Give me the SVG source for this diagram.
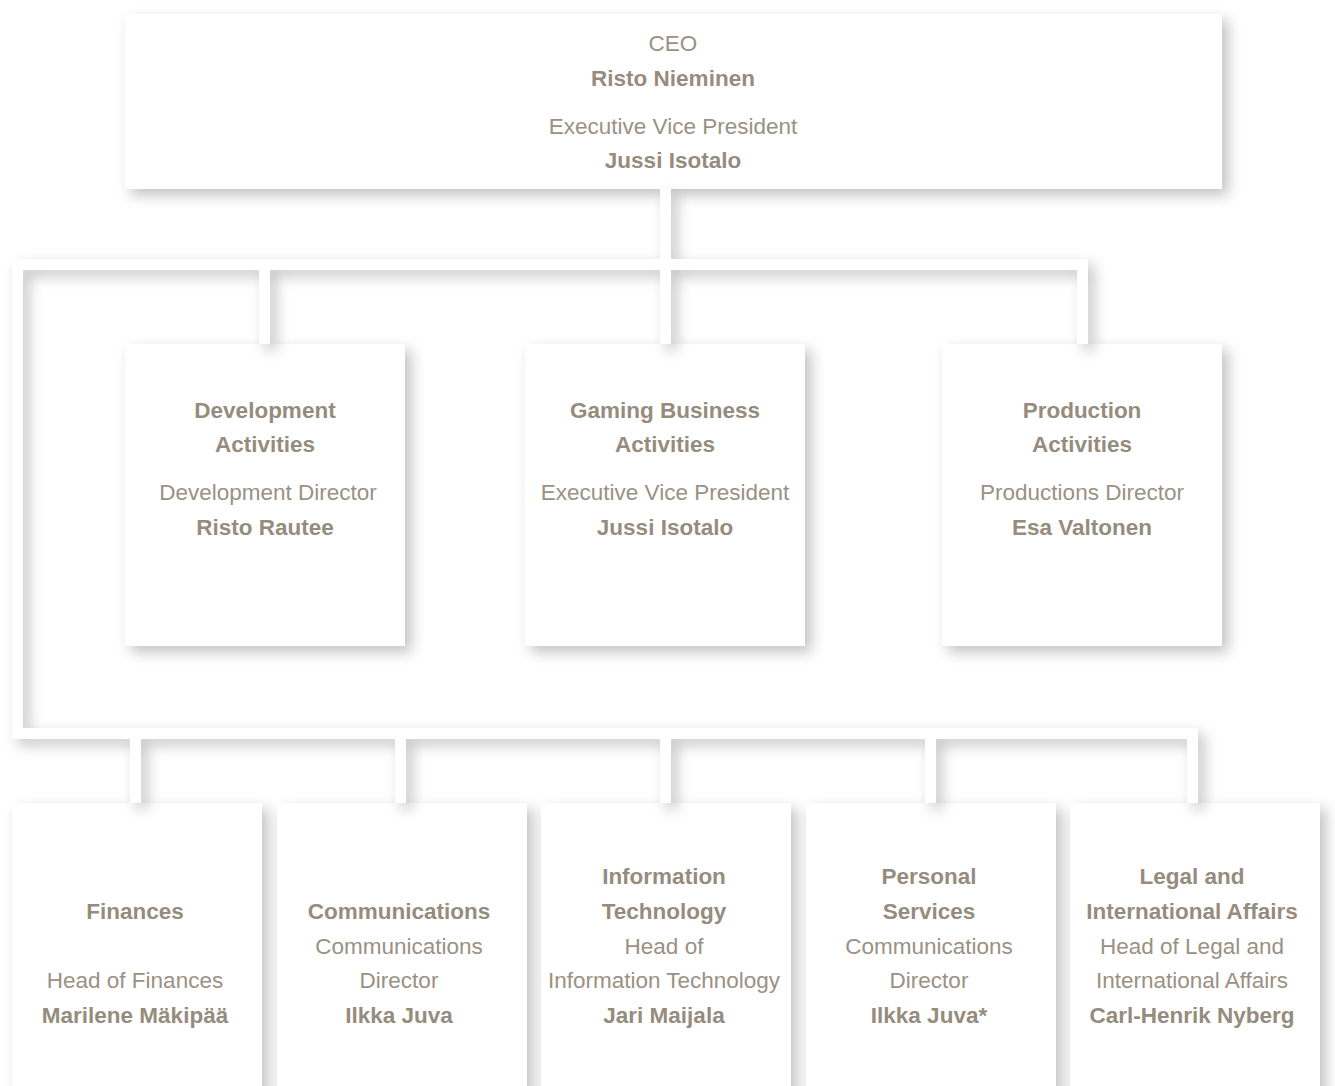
<svg xmlns="http://www.w3.org/2000/svg" width="1335" height="1086" viewBox="0 0 1335 1086">
<defs>
<filter id="sh" x="-15%" y="-15%" width="140%" height="150%">
<feDropShadow dx="6" dy="6" stdDeviation="7" flood-color="#000" flood-opacity="0.24"/>
</filter>
<style>
.box{fill:#fff;filter:url(#sh)}
.bar{fill:#fff}
text{font-family:"Liberation Sans",Arial,Helvetica,sans-serif;font-size:22.5px;fill:#9a9184;text-anchor:middle}
.b{font-weight:bold;fill:#958c7e}
</style>
</defs>
<rect width="1335" height="1086" fill="#fff"/>

<g id="ceo">
<rect class="box" x="125" y="14" width="1097" height="175"/>
<text x="673" y="51">CEO</text>
<text class="b" x="673" y="86">Risto Nieminen</text>
<text x="673" y="134">Executive Vice President</text>
<text class="b" x="673" y="168">Jussi Isotalo</text>
</g>

<g id="development">
<rect class="box" x="125" y="344" width="280" height="302"/>
<text class="b" x="265" y="418">Development</text>
<text class="b" x="265" y="452">Activities</text>
<text x="268" y="500">Development Director</text>
<text class="b" x="265" y="535">Risto Rautee</text>
</g>

<g id="gaming">
<rect class="box" x="525" y="344" width="280" height="302"/>
<text class="b" x="665" y="418">Gaming Business</text>
<text class="b" x="665" y="452">Activities</text>
<text x="665" y="500">Executive Vice President</text>
<text class="b" x="665" y="535">Jussi Isotalo</text>
</g>

<g id="production">
<rect class="box" x="942" y="344" width="280" height="302"/>
<text class="b" x="1082" y="418">Production</text>
<text class="b" x="1082" y="452">Activities</text>
<text x="1082" y="500">Productions Director</text>
<text class="b" x="1082" y="535">Esa Valtonen</text>
</g>

<g id="finances">
<rect class="box" x="12" y="803" width="250" height="300"/>
<text class="b" x="135" y="919">Finances</text>
<text x="135" y="988">Head of Finances</text>
<text class="b" x="135" y="1023">Marilene Mäkipää</text>
</g>

<g id="communications">
<rect class="box" x="277" y="803" width="250" height="300"/>
<text class="b" x="399" y="919">Communications</text>
<text x="399" y="954">Communications</text>
<text x="399" y="988">Director</text>
<text class="b" x="399" y="1023">Ilkka Juva</text>
</g>

<g id="it">
<rect class="box" x="541" y="803" width="250" height="300"/>
<text class="b" x="664" y="884">Information</text>
<text class="b" x="664" y="919">Technology</text>
<text x="664" y="954">Head of</text>
<text x="664" y="988">Information Technology</text>
<text class="b" x="664" y="1023">Jari Maijala</text>
</g>

<g id="personal">
<rect class="box" x="806" y="803" width="250" height="300"/>
<text class="b" x="929" y="884">Personal</text>
<text class="b" x="929" y="919">Services</text>
<text x="929" y="954">Communications</text>
<text x="929" y="988">Director</text>
<text class="b" x="929" y="1023">Ilkka Juva*</text>
</g>

<g id="legal">
<rect class="box" x="1070" y="803" width="250" height="300"/>
<text class="b" x="1192" y="884">Legal and</text>
<text class="b" x="1192" y="919">International Affairs</text>
<text x="1192" y="954">Head of Legal and</text>
<text x="1192" y="988">International Affairs</text>
<text class="b" x="1192" y="1023">Carl-Henrik Nyberg</text>
</g>

<g id="connectors" filter="url(#sh)">
<rect class="bar" x="660" y="189" width="11" height="75"/>
<rect class="bar" x="12" y="259" width="1076" height="11"/>
<rect class="bar" x="12" y="259" width="11" height="480"/>
<rect class="bar" x="259" y="259" width="11" height="85"/>
<rect class="bar" x="660" y="259" width="11" height="85"/>
<rect class="bar" x="1077" y="259" width="11" height="85"/>
<rect class="bar" x="12" y="728" width="1186" height="11"/>
<rect class="bar" x="130" y="728" width="11" height="75"/>
<rect class="bar" x="395" y="728" width="11" height="75"/>
<rect class="bar" x="660" y="728" width="11" height="75"/>
<rect class="bar" x="925" y="728" width="11" height="75"/>
<rect class="bar" x="1187" y="728" width="11" height="75"/>
</g>
</svg>
